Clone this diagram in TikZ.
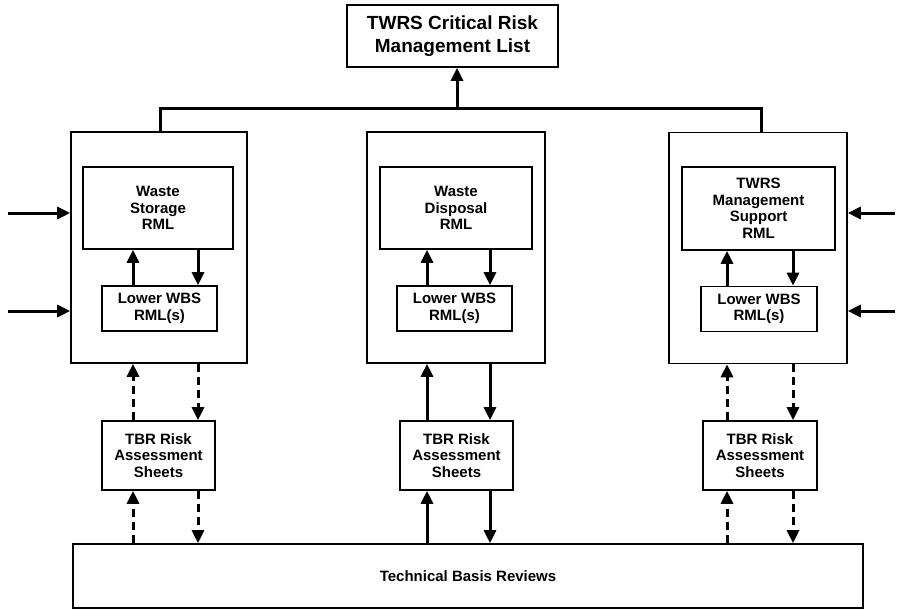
\documentclass[tikz,border=0pt]{standalone}
\usepackage{fontspec}
\setmainfont{Liberation Sans}
\usetikzlibrary{arrows.meta}
\begin{document}
\begin{tikzpicture}[x=1pt,y=-1pt,
  box/.style={draw,line width=1.6pt,inner sep=0pt,align=center,
    font=\fontsize{15}{16.5}\selectfont\bfseries},
  flow/.style={line width=3pt,-{Triangle[length=13pt,width=12pt]}},
  plain/.style={line width=3pt},
  dashflow/.style={flow,dash pattern=on 8pt off 5pt}]
\useasboundingbox (0,0) rectangle (899,610);

% top list
\node[box,minimum width=211pt,minimum height=62pt,
  font=\fontsize{19}{22.5}\selectfont\bfseries] (top) at (452.5,36)
  {TWRS Critical Risk\\Management List};

% three area frames
\node[box,minimum width=176pt,minimum height=231pt] (outL) at (159,247.5) {};
\node[box,minimum width=178pt,minimum height=231pt] (outM) at (456,247.5) {};
\node[box,minimum width=178pt,minimum height=231pt] (outR) at (758,248) {};

% area RMLs
\node[box,minimum width=150pt,minimum height=82pt] (rmlL) at (158,208)
  {Waste\\Storage\\RML};
\node[box,minimum width=152pt,minimum height=82pt] (rmlM) at (456,208)
  {Waste\\Disposal\\RML};
\node[box,minimum width=153pt,minimum height=83pt] (rmlR) at (758.5,208.5)
  {TWRS\\Management\\Support\\RML};

% lower WBS RMLs
\node[box,minimum width=115pt,minimum height=45pt] (wbsL) at (159.5,308.5) {Lower WBS\\RML(s)};
\node[box,minimum width=115pt,minimum height=45pt] (wbsM) at (454.5,308.5) {Lower WBS\\RML(s)};
\node[box,minimum width=116pt,minimum height=45pt] (wbsR) at (759,309) {Lower WBS\\RML(s)};

% TBR sheets
\node[box,minimum width=113pt,minimum height=69pt] (tbrL) at (158.5,455.5) {TBR Risk\\Assessment\\Sheets};
\node[box,minimum width=113pt,minimum height=69pt] (tbrM) at (456.5,455.5) {TBR Risk\\Assessment\\Sheets};
\node[box,minimum width=114pt,minimum height=69pt] (tbrR) at (760,455.5) {TBR Risk\\Assessment\\Sheets};

% technical basis reviews
\node[box,minimum width=790pt,minimum height=64pt] (tbr) at (468,576) {Technical Basis Reviews};

% column positions of the vertical connectors
\coordinate (xL1) at (133,0);  \coordinate (xL2) at (198,0);
\coordinate (xM1) at (427,0);  \coordinate (xM2) at (490,0);
\coordinate (xR1) at (727,0);  \coordinate (xR2) at (793,0);
\coordinate (xT)  at (457,0);
\coordinate (busL) at (160,108);
\coordinate (busR) at (761,108);

% roll-up bus to the top list
\draw[plain] (outL.north -| busL) -- (busL) -- (busR) -- (outR.north -| busR);
\draw[flow] (busL -| xT) -- (top.south -| xT);

% inside each frame
\draw[flow] (wbsL.north -| xL1) -- (rmlL.south -| xL1);
\draw[flow] (rmlL.south -| xL2) -- (wbsL.north -| xL2);
\draw[flow] (wbsM.north -| xM1) -- (rmlM.south -| xM1);
\draw[flow] (rmlM.south -| xM2) -- (wbsM.north -| xM2);
\draw[flow] (wbsR.north -| xR1) -- (rmlR.south -| xR1);
\draw[flow] (rmlR.south -| xR2) -- (wbsR.north -| xR2);

% frames <-> TBR sheets
\draw[dashflow] (tbrL.north -| xL1) -- (outL.south -| xL1);
\draw[dashflow] (outL.south -| xL2) -- (tbrL.north -| xL2);
\draw[flow] (tbrM.north -| xM1) -- (outM.south -| xM1);
\draw[flow] (outM.south -| xM2) -- (tbrM.north -| xM2);
\draw[dashflow] (tbrR.north -| xR1) -- (outR.south -| xR1);
\draw[dashflow] (outR.south -| xR2) -- (tbrR.north -| xR2);

% TBR sheets <-> reviews
\draw[dashflow] (tbr.north -| xL1) -- (tbrL.south -| xL1);
\draw[dashflow] (tbrL.south -| xL2) -- (tbr.north -| xL2);
\draw[flow] (tbr.north -| xM1) -- (tbrM.south -| xM1);
\draw[flow] (tbrM.south -| xM2) -- (tbr.north -| xM2);
\draw[dashflow] (tbr.north -| xR1) -- (tbrR.south -| xR1);
\draw[dashflow] (tbrR.south -| xR2) -- (tbr.north -| xR2);

% external inputs
\coordinate (inL1) at (8,213);   \coordinate (inL2) at (8,311);
\coordinate (inR1) at (895,213); \coordinate (inR2) at (895,311);
\draw[flow] (inL1) -- (inL1 -| outL.west);
\draw[flow] (inL2) -- (inL2 -| outL.west);
\draw[flow] (inR1) -- (inR1 -| outR.east);
\draw[flow] (inR2) -- (inR2 -| outR.east);
\end{tikzpicture}
\end{document}
